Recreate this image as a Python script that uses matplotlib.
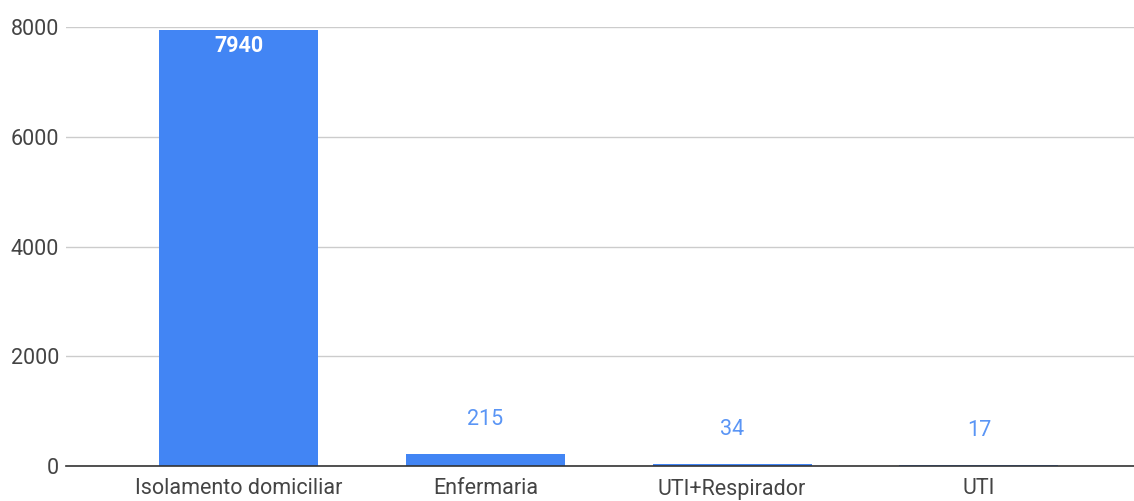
import matplotlib
matplotlib.use('Agg')
import matplotlib.pyplot as plt

categories = ["Isolamento domiciliar", "Enfermaria", "UTI+Respirador", "UTI"]
values = [7940, 215, 34, 17]
yticks = [0, 2000, 4000, 6000, 8000]

BAR_COLOR = "#4285F4"
LABEL_COLOR = "#5a95f5"
TEXT_COLOR = "#444444"

plt.rcParams['font.family'] = ['Roboto', 'DejaVu Sans']

fig = plt.figure(figsize=(11.34, 5.01), dpi=100)
ax = fig.add_axes([66 / 1134, 35 / 501, 1 - 66 / 1134, (466 - 27) / 501])

x = range(len(categories))
ax.bar(x, values, width=0.645, color=BAR_COLOR, zorder=3)

for i, v in enumerate(values):
    if v > 1000:
        ax.annotate(str(v), (i, v), xytext=(0, -11.5), textcoords="offset points",
                    ha="center", va="center", color="white", fontsize=15.5, fontweight="bold")
    else:
        ax.annotate(str(v), (i, v), xytext=(0, 25), textcoords="offset points",
                    ha="center", va="center", color=LABEL_COLOR, fontsize=15.5)

ax.set_xlim(-0.70, 3.629)
ax.set_ylim(0, 8000)
ax.set_yticks(yticks)
ax.set_xticks(list(x))
ax.set_xticklabels(categories)
ax.tick_params(axis="both", length=0, labelsize=15.5, colors=TEXT_COLOR)
ax.tick_params(axis="y", pad=5)
ax.tick_params(axis="x", pad=9)
ax.grid(axis="y", color="#cccccc", linewidth=1, zorder=0)
for s in ["top", "right", "left"]:
    ax.spines[s].set_visible(False)
ax.spines["bottom"].set_color("#333333")
ax.spines["bottom"].set_linewidth(1.2)
ax.spines["bottom"].set_zorder(4)

plt.savefig("out.png", dpi=100)
